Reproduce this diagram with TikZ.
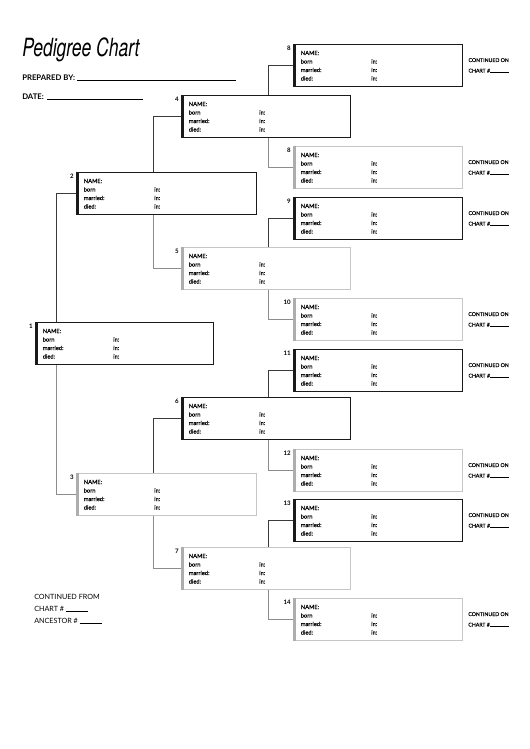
\documentclass[tikz,border=0pt]{standalone}
\usepackage{fontspec}
\usepackage{graphicx}
\setmainfont{Lato}
\newfontfamily\titlefont{TeX Gyre Heros}
\newfontfamily\boxfont[FakeBold=0.4]{Lato}
\usetikzlibrary{calc,backgrounds}
\definecolor{femline}{HTML}{C6C6C6}
\definecolor{fembarc}{HTML}{ADADAD}
\definecolor{maleline}{HTML}{1A1A1A}
\definecolor{fconnc}{HTML}{8C8C8C}
\definecolor{mconnc}{HTML}{3A3A3A}
\tikzset{
  mbox/.style={draw=maleline, line width=0.95pt, fill=white},
  fbox/.style={draw=femline, line width=0.8pt, fill=white},
  mbar/.style={fill=maleline},
  fbar/.style={fill=fembarc},
  txt/.style={font=\boxfont\fontsize{4.3}{5}\selectfont, inner sep=0pt, anchor=base west},
  numlbl/.style={font=\bfseries\fontsize{4.6}{5}\selectfont, inner sep=0pt},
  cont/.style={font=\boxfont\fontsize{3.9}{5}\selectfont, inner sep=0pt, anchor=base west},
  hdr/.style={font=\bfseries\fontsize{5.8}{7}\selectfont, inner sep=0pt, anchor=base west},
  foot/.style={font=\fontsize{5.4}{7}\selectfont, inner sep=0pt, anchor=base west},
  mconn/.style={draw=mconnc, line width=0.75pt},
  fconn/.style={draw=fconnc, line width=0.75pt},
}
\newcommand{\pedbox}[6]{%
  \node[#5box, minimum width={#4*0.75pt}, minimum height={42*0.75pt}, anchor=north west, inner sep=0pt] (#1) at (#2,#3) {};
  \fill[#5bar] (#1.north west) rectangle ($(#1.south west)+(2.8,0)$);
  \node[numlbl, anchor=north east] (#1num) at ($(#1.north west)+(-2,1.5)$) {#6};
  \node[txt] (#1name) at ($(#1.north west)+(7.5,11)$) {NAME:};
  \node[txt] (#1born) at ($(#1.north west)+(7.5,19.5)$) {born};
  \node[txt] (#1bornin) at ($(#1.north west)+(78,19.5)$) {in:};
  \node[txt] (#1mar) at ($(#1.north west)+(7.5,28)$) {married:};
  \node[txt] (#1marin) at ($(#1.north west)+(78,28)$) {in:};
  \node[txt] (#1died) at ($(#1.north west)+(7.5,36.5)$) {died:};
  \node[txt] (#1diedin) at ($(#1.north west)+(78,36.5)$) {in:};
}
\newcommand{\contd}[1]{%
  \node[cont] (#1c1) at ($(#1.north east)+(5,18)$) {CONTINUED ON};
  \node[cont] (#1c2) at ($(#1.north east)+(5,28.5)$) {CHART \#\rule{14pt}{0.3pt}};
}
\begin{document}
\begin{tikzpicture}[x=0.75pt,y=-0.75pt]
\useasboundingbox (0,0) rectangle (530,749);
% title and header
\node[inner sep=0pt, anchor=base west] (title) at (22,56) {\scalebox{0.70}[1]{\titlefont\itshape\fontsize{18.8}{20}\selectfont Pedigree Chart}};
\node[hdr] (prep) at (22,80) {PREPARED BY:};
\coordinate (prepA) at (77,80.5);
\coordinate (prepB) at (236,80.5);
\draw[line width=0.6pt] (prepA) -- (prepB);
\node[hdr] (date) at (22,99) {DATE:};
\coordinate (dateA) at (47,99.5);
\coordinate (dateB) at (143,99.5);
\draw[line width=0.6pt] (dateA) -- (dateB);
% boxes
\pedbox{g1}{35}{322}{178}{m}{1}
\pedbox{g2}{76}{172}{180}{m}{2}
\pedbox{g3}{76}{473}{180}{f}{3}
\pedbox{g4}{181}{95}{169}{m}{4}
\pedbox{g5}{181}{247}{169}{f}{5}
\pedbox{g6}{181}{397}{169}{m}{6}
\pedbox{g7}{181}{547}{169}{f}{7}
\pedbox{g8}{293}{44}{169}{m}{8}
\pedbox{g9}{293}{146}{169}{f}{8}
\pedbox{g10}{293}{197}{169}{m}{9}
\pedbox{g11}{293}{298}{169}{f}{10}
\pedbox{g12}{293}{349}{169}{m}{11}
\pedbox{g13}{293}{449}{169}{f}{12}
\pedbox{g14}{293}{499}{169}{m}{13}
\pedbox{g15}{293}{598}{169}{f}{14}
\contd{g8}\contd{g9}\contd{g10}\contd{g11}\contd{g12}\contd{g13}\contd{g14}\contd{g15}
% connectors
\begin{scope}[on background layer]
\draw[mconn] (g2.west) -| ($(g1.west)+(21,0)$);
\draw[fconn] (g3.west) -| ($(g1.west)+(21,0)$);
\draw[mconn] (g4.west) -| ($(g2.west)+(77,0)$);
\draw[fconn] (g5.west) -| ($(g2.west)+(77,0)$);
\draw[mconn] (g6.west) -| ($(g3.west)+(77,0)$);
\draw[fconn] (g7.west) -| ($(g3.west)+(77,0)$);
\draw[mconn] (g8.west) -| ($(g4.west)+(87,0)$);
\draw[fconn] (g9.west) -| ($(g4.west)+(87,0)$);
\draw[mconn] (g10.west) -| ($(g5.west)+(87,0)$);
\draw[fconn] (g11.west) -| ($(g5.west)+(87,0)$);
\draw[mconn] (g12.west) -| ($(g6.west)+(87,0)$);
\draw[fconn] (g13.west) -| ($(g6.west)+(87,0)$);
\draw[mconn] (g14.west) -| ($(g7.west)+(87,0)$);
\draw[fconn] (g15.west) -| ($(g7.west)+(87,0)$);
\end{scope}
% footer
\node[foot] (cf1) at (34,599) {CONTINUED FROM};
\node[foot] (cf2) at (34,611) {CHART \# \rule{16.5pt}{0.3pt}};
\node[foot] (cf3) at (34,623) {ANCESTOR \# \rule{16.5pt}{0.3pt}};
\end{tikzpicture}
\end{document}
